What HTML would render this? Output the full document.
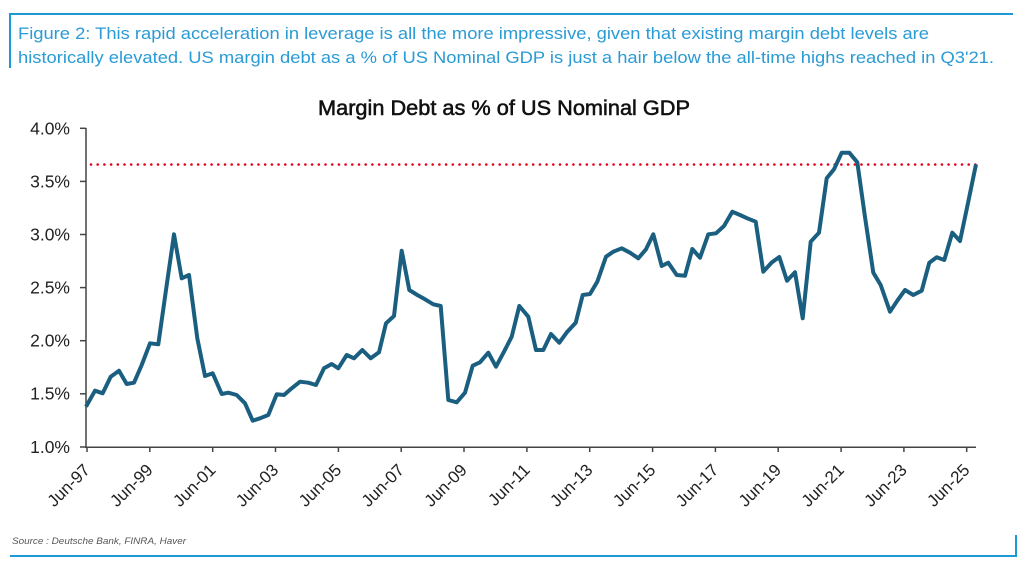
<!DOCTYPE html>
<html>
<head>
<meta charset="utf-8">
<style>
  html,body{margin:0;padding:0;background:#fff;}
  svg{display:block;}
</style>
</head>
<body>
<svg width="1024" height="567" viewBox="0 0 1024 567" xmlns="http://www.w3.org/2000/svg">
  <rect width="1024" height="567" fill="#fff"/>
  <!-- caption frame -->
  <line x1="10" y1="14" x2="1013" y2="14" stroke="#1d9ad6" stroke-width="2"/>
  <line x1="10" y1="13" x2="10" y2="68" stroke="#1d9ad6" stroke-width="2"/>
  <text x="18" y="39" font-family="Liberation Sans, Arial, sans-serif" font-size="16.7" fill="#2a9bd5" textLength="911" lengthAdjust="spacingAndGlyphs">Figure 2: This rapid acceleration in leverage is all the more impressive, given that existing margin debt levels are</text>
  <text x="18" y="63" font-family="Liberation Sans, Arial, sans-serif" font-size="16.7" fill="#2a9bd5" textLength="976" lengthAdjust="spacingAndGlyphs">historically elevated. US margin debt as a % of US Nominal GDP is just a hair below the all-time highs reached in Q3'21.</text>

  <!-- title -->
  <text x="318" y="115" font-family="Liberation Sans, Arial, sans-serif" font-size="21" fill="#111" stroke="#111" stroke-width="0.55" textLength="372" lengthAdjust="spacingAndGlyphs">Margin Debt as % of US Nominal GDP</text>

  <!-- y axis labels -->
  <g font-family="Liberation Sans, Arial, sans-serif" font-size="17.5" fill="#222" text-anchor="end">
    <text x="70" y="134.5">4.0%</text>
    <text x="70" y="187.5">3.5%</text>
    <text x="70" y="240.5">3.0%</text>
    <text x="70" y="293.5">2.5%</text>
    <text x="70" y="346.5">2.0%</text>
    <text x="70" y="399.5">1.5%</text>
    <text x="70" y="453">1.0%</text>
  </g>

  <!-- axes -->
  <g stroke="#444" stroke-width="1.5" fill="none">
    <line x1="86" y1="128" x2="86" y2="448"/>
    <line x1="85" y1="447.3" x2="976" y2="447.3"/>
    <line x1="80" y1="128.3" x2="86" y2="128.3"/>
    <line x1="80" y1="181.4" x2="86" y2="181.4"/>
    <line x1="80" y1="234.5" x2="86" y2="234.5"/>
    <line x1="80" y1="287.6" x2="86" y2="287.6"/>
    <line x1="80" y1="340.7" x2="86" y2="340.7"/>
    <line x1="80" y1="393.8" x2="86" y2="393.8"/>
    <line x1="80" y1="447" x2="86" y2="447"/>
    <line x1="87" y1="447" x2="87" y2="452"/>
    <line x1="149.8" y1="447" x2="149.8" y2="452"/>
    <line x1="212.7" y1="447" x2="212.7" y2="452"/>
    <line x1="275.5" y1="447" x2="275.5" y2="452"/>
    <line x1="338.4" y1="447" x2="338.4" y2="452"/>
    <line x1="401.2" y1="447" x2="401.2" y2="452"/>
    <line x1="464" y1="447" x2="464" y2="452"/>
    <line x1="526.9" y1="447" x2="526.9" y2="452"/>
    <line x1="589.7" y1="447" x2="589.7" y2="452"/>
    <line x1="652.6" y1="447" x2="652.6" y2="452"/>
    <line x1="715.4" y1="447" x2="715.4" y2="452"/>
    <line x1="778.2" y1="447" x2="778.2" y2="452"/>
    <line x1="841.1" y1="447" x2="841.1" y2="452"/>
    <line x1="903.9" y1="447" x2="903.9" y2="452"/>
    <line x1="966.7" y1="447" x2="966.7" y2="452"/>
  </g>

  <!-- x labels -->
  <g font-family="Liberation Sans, Arial, sans-serif" font-size="17" fill="#222" text-anchor="end">
    <text transform="translate(91,471) rotate(-45)">Jun-97</text>
    <text transform="translate(153.8,471) rotate(-45)">Jun-99</text>
    <text transform="translate(216.7,471) rotate(-45)">Jun-01</text>
    <text transform="translate(279.5,471) rotate(-45)">Jun-03</text>
    <text transform="translate(342.4,471) rotate(-45)">Jun-05</text>
    <text transform="translate(405.2,471) rotate(-45)">Jun-07</text>
    <text transform="translate(468,471) rotate(-45)">Jun-09</text>
    <text transform="translate(530.9,471) rotate(-45)">Jun-11</text>
    <text transform="translate(593.7,471) rotate(-45)">Jun-13</text>
    <text transform="translate(656.6,471) rotate(-45)">Jun-15</text>
    <text transform="translate(719.4,471) rotate(-45)">Jun-17</text>
    <text transform="translate(782.2,471) rotate(-45)">Jun-19</text>
    <text transform="translate(845.1,471) rotate(-45)">Jun-21</text>
    <text transform="translate(907.9,471) rotate(-45)">Jun-23</text>
    <text transform="translate(970.7,471) rotate(-45)">Jun-25</text>
  </g>

  <!-- red dotted reference line -->
  <line x1="91" y1="164.5" x2="976" y2="164.5" stroke="#e3001b" stroke-width="2.6" stroke-dasharray="0 6.7" stroke-linecap="round"/>

  <!-- series -->
  <polyline fill="none" stroke="#1b5f80" stroke-width="4" stroke-linejoin="round" stroke-linecap="butt" points="
86,406.7 95,390.7 102.7,393.3 110.7,376.7 119,370.7 126.7,384 134,382.7 141.7,365 150,343.3 158.3,344.3
166,290 174,234.3 181.7,278.3 189,275 197.3,338.3 205,376 212.7,373.3 221.7,394 228.3,392.7 236.7,395
245,403.3 252.7,420.7 260,418.3 268.3,415 276.7,394.3 284,395 291.7,388.3 300,381.7 308.3,382.7 316,385
324,368.3 331.7,364 338.3,368.3 346.7,355 354,358.3 362.3,350 370.7,358.3 379,352.3 386,323.3 394,316
401.7,250.7 409.3,290 417.3,295 425,299.3 433.3,304.3 440.7,306 448.3,400 456.7,402.3 465,392.7 472.7,365.7
480,362.3 488.3,352.7 496,366.7 504,351.7 511.7,336.7 519.3,306 528.3,316.7 536,350 543.3,350 551,334
559.3,342.7 567.3,331.7 575.7,322.7 582.7,295 590,294 597.3,281.7 606,256.7 613.3,251.7 621.7,248.3 630,252.7
638.3,258.3 646,249.3 653.3,234.3 661.7,266 668.3,262.7 676.7,275 685,275.7 692.3,249 700,257.7 708.3,234.3
716,233.3 724,226 732.3,211.7 740,215 747.3,218.3 755.7,221.7 763.3,271.7 771.7,262.5 779.3,257 787,280.7
795,272.2 802.7,318.3 810.7,241.7 819,232.7 826.7,178.3 834,169.3 841.7,152.7 849.3,152.7 857.3,162.3 865,217
873.3,272.7 880.7,285 890,311.7 897.3,300.7 905,290 913.3,295 921.7,290.7 929.3,262.7 936.7,257.3 944.3,260
952.3,232.7 960,241 968,203 976,164.3"/>

  <!-- source & bottom frame -->
  <text x="12" y="544" font-family="Liberation Sans, Arial, sans-serif" font-size="9" font-style="italic" fill="#555" textLength="174" lengthAdjust="spacingAndGlyphs">Source : Deutsche Bank, FINRA, Haver</text>
  <line x1="10" y1="556" x2="1016" y2="556" stroke="#1d9ad6" stroke-width="2"/>
  <line x1="1016" y1="535" x2="1016" y2="557" stroke="#1d9ad6" stroke-width="2"/>
</svg>
</body>
</html>
